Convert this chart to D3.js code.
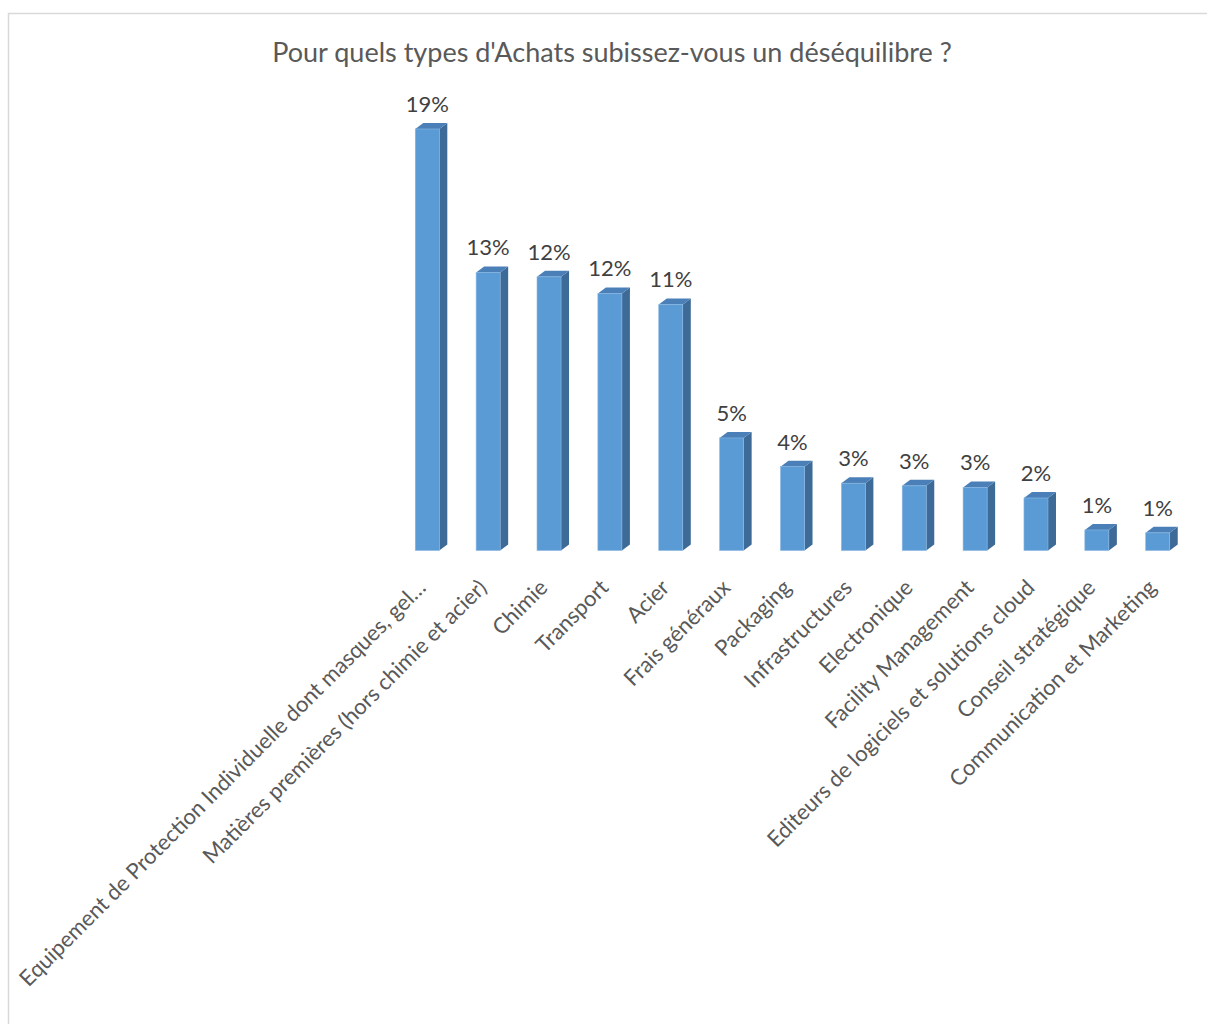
<!DOCTYPE html>
<html>
<head>
<meta charset="utf-8">
<script src="https://cdn.jsdelivr.net/npm/d3@7"></script>
<style>
  html, body { margin: 0; padding: 0; background: #ffffff; }
  svg { display: block; }
</style>
</head>
<body>
<div id="chart"></div>
<script>
// Survey results: share of respondents facing an imbalance, per purchasing category
const categories = [
  "Equipement de Protection Individuelle dont masques, gel\u2026",
  "Matières premières (hors chimie et acier)",
  "Chimie",
  "Transport",
  "Acier",
  "Frais généraux",
  "Packaging",
  "Infrastructures",
  "Electronique",
  "Facility Management",
  "Editeurs de logiciels et solutions cloud",
  "Conseil stratégique",
  "Communication et Marketing"
];
const values = [0.191, 0.126, 0.124, 0.1165, 0.1115, 0.051, 0.038, 0.0305, 0.0293, 0.0286, 0.0238, 0.0093, 0.008];
const titleText = "Pour quels types d'Achats subissez-vous un déséquilibre ?";

const W = 1207, H = 1024;
const FONT = "Lato, 'Open Sans', sans-serif";

const svg = d3.select("#chart").append("svg")
  .attr("width", W).attr("height", H);

// chart area frame
svg.append("rect")
  .attr("x", 8.5).attr("y", 13.5)
  .attr("width", W + 20).attr("height", H + 20)
  .attr("fill", "#ffffff")
  .attr("stroke", "#d9d9d9").attr("stroke-width", 1.5);

svg.append("text")
  .attr("x", 612).attr("y", 62)
  .attr("text-anchor", "middle")
  .attr("font-family", FONT).attr("font-size", 27)
  .attr("fill", "#595959")
  .text(titleText);

// scales
const x = d3.scaleBand()
  .domain(categories)
  .range([397, 1188])
  .paddingInner(0.605)
  .paddingOuter(0.3);
const y = d3.scaleLinear().domain([0, 0.2]).range([550.5, 109.1]);

const depthX = 8, depthY = 6;
const pct = d3.format(".0%");

const bars = svg.append("g").selectAll("g.bar")
  .data(categories.map((c, i) => ({ c, v: values[i] })))
  .join("g").attr("class", "bar");

// side face
bars.append("path")
  .attr("fill", "#3d6a96")
  .attr("d", d => {
    const x1 = x(d.c) + x.bandwidth();
    const yt = y(d.v), yb = y(0);
    return `M${x1},${yt}L${x1 + depthX},${yt - depthY}L${x1 + depthX},${yb - depthY}L${x1},${yb}Z`;
  });

// top face
bars.append("path")
  .attr("fill", "#4a7fb8")
  .attr("d", d => {
    const x0 = x(d.c), x1 = x0 + x.bandwidth();
    const yt = y(d.v);
    return `M${x0},${yt}L${x0 + depthX},${yt - depthY}L${x1 + depthX},${yt - depthY}L${x1},${yt}Z`;
  });

// front face
bars.append("rect")
  .attr("x", d => x(d.c))
  .attr("y", d => y(d.v))
  .attr("width", x.bandwidth())
  .attr("height", d => y(0) - y(d.v))
  .attr("fill", "#5b9bd5")
  .attr("stroke", "#8bb8e3").attr("stroke-width", 0.6);

// value labels
bars.append("text")
  .attr("x", d => x(d.c) + x.bandwidth() / 2)
  .attr("y", d => y(d.v) - depthY - 11)
  .attr("text-anchor", "middle")
  .attr("font-family", FONT).attr("font-size", 22)
  .attr("fill", "#404040")
  .text(d => pct(d.v));

// category labels, rotated
svg.append("g").selectAll("text")
  .data(categories)
  .join("text")
  .attr("transform", d => `translate(${x(d) + x.bandwidth() / 2},589) rotate(-45)`)
  .attr("text-anchor", "end")
  .attr("font-family", FONT).attr("font-size", 22)
  .attr("fill", "#595959")
  .text(d => d);
</script>
</body>
</html>
